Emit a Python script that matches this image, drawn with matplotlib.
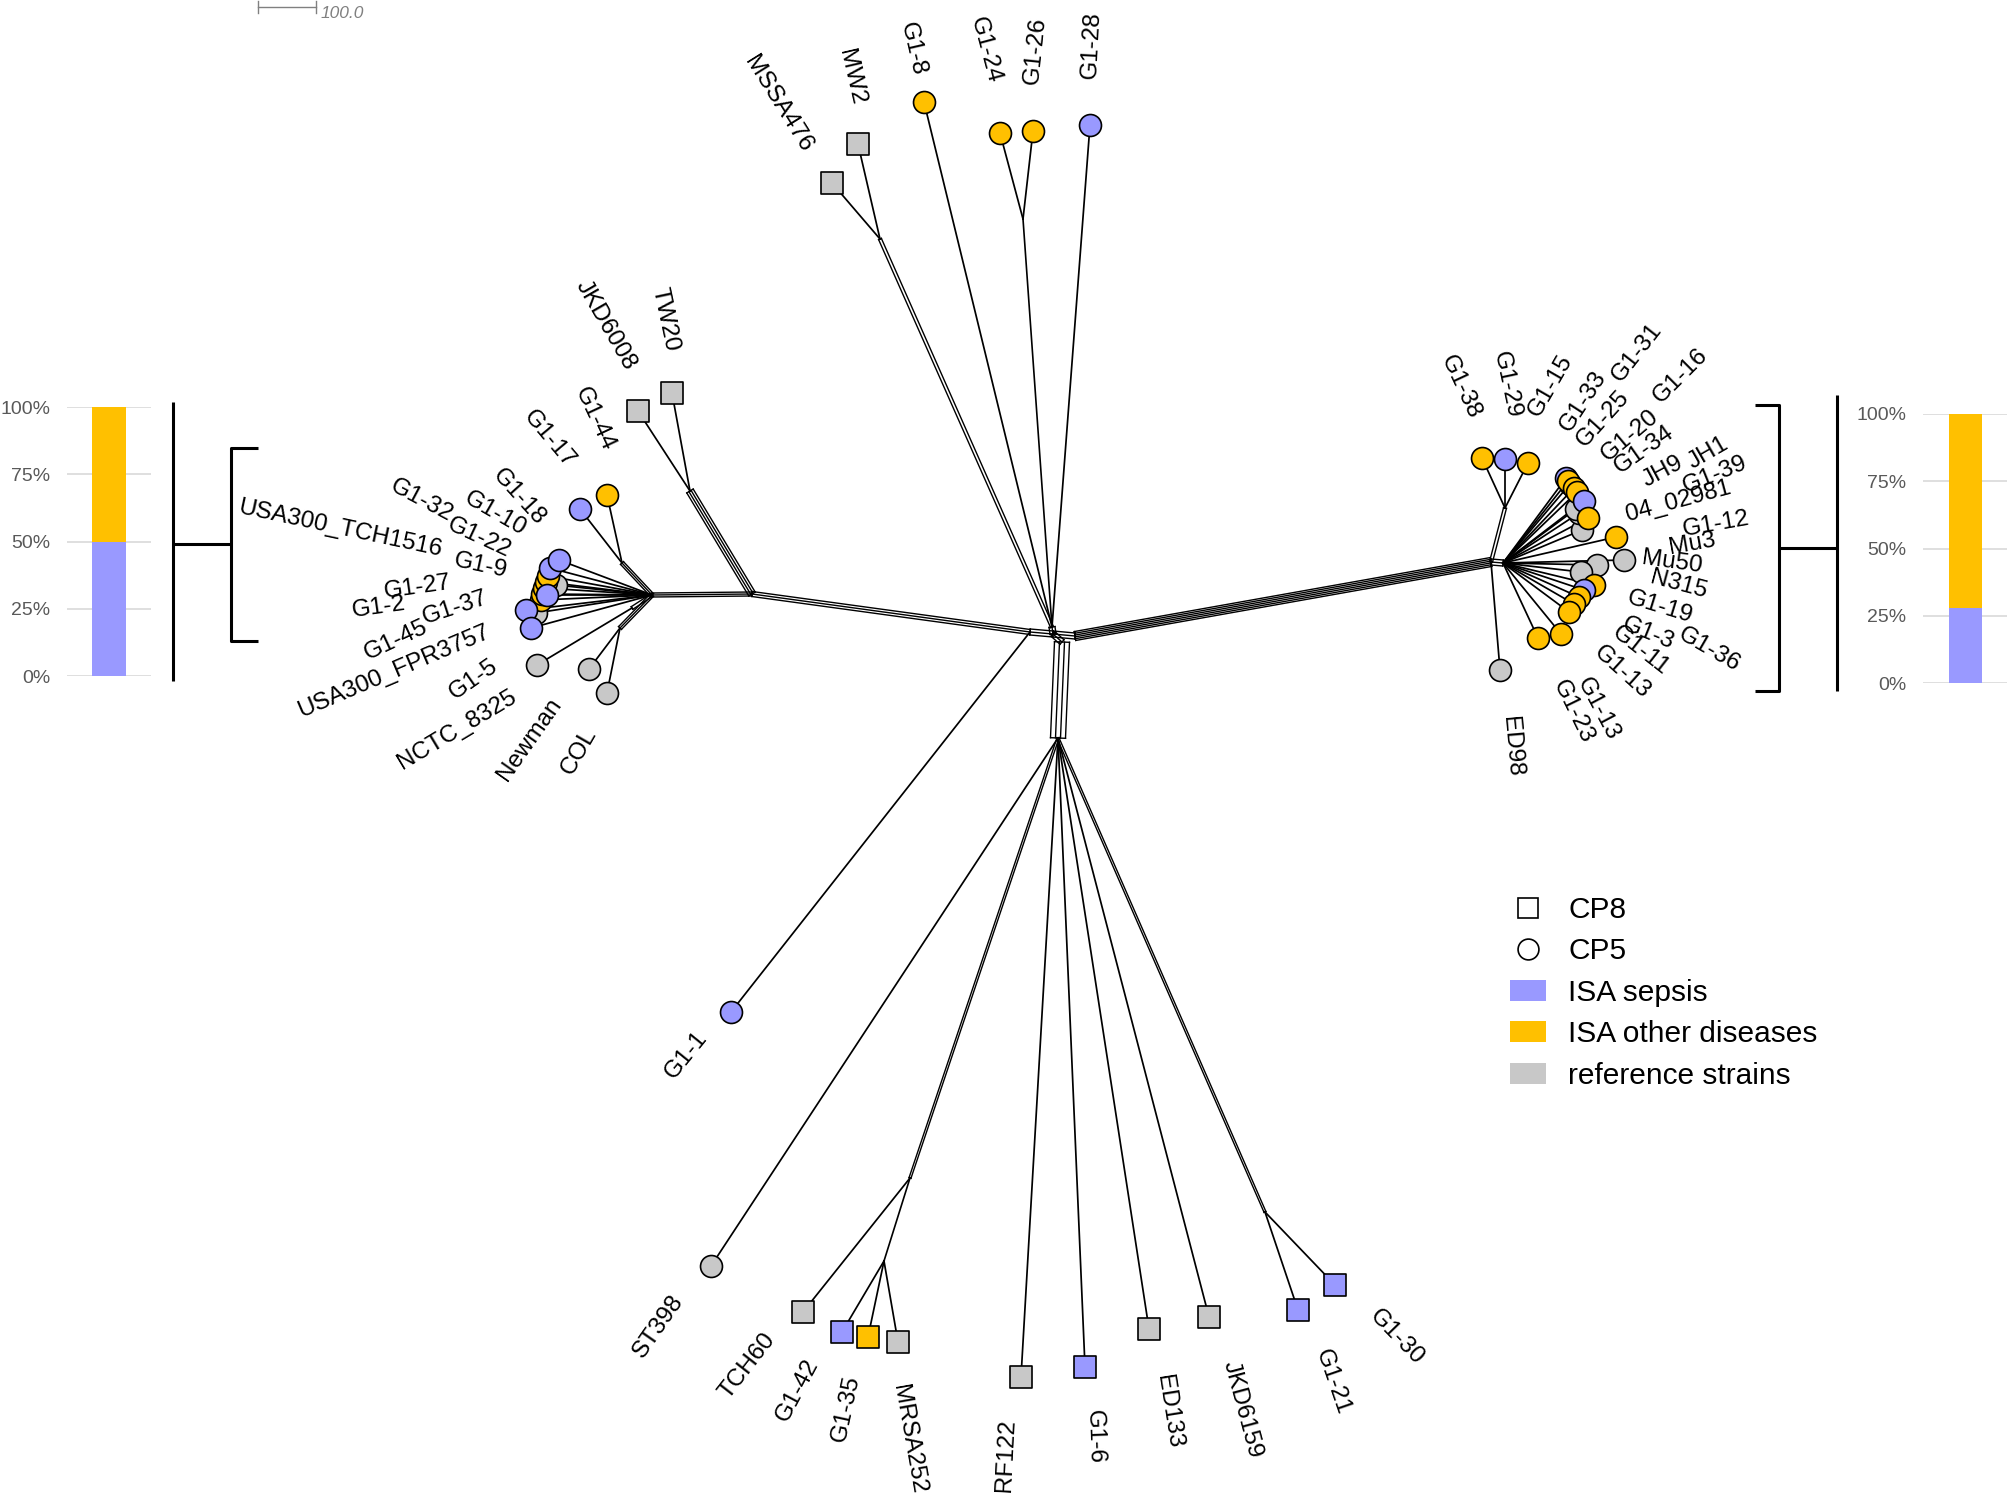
import matplotlib
matplotlib.use('Agg')
import matplotlib.pyplot as plt
from matplotlib.lines import Line2D
from matplotlib.patches import Patch
import numpy as np

plt.rcParams['font.family'] = ['Liberation Sans', 'DejaVu Sans']

W, H = 2008, 1494
PURPLE = '#9999FF'
YELLOW = '#FFC000'
GREY = '#C8C8C8'
fill = {'sepsis': PURPLE, 'other': YELLOW, 'ref': GREY}
shape = {'CP8': 's', 'CP5': 'o'}

# inner nodes of the split network (layout coordinates)
inner = {
    'CT': (1052, 627), 'CL': (1030, 632), 'C': (1053, 634), 'CR': (1075, 636),
    'CB': (1062, 642), 'BH': (1058, 738),
    'LM': (752, 594), 'LH': (652, 595), 'JTW': (690, 491), 'J17': (622, 563),
    'JN': (632, 608), 'JNC': (620, 628),
    'RH': (1491, 562), 'RHb': (1503, 563), 'J38': (1505, 508),
    'JMW': (880, 239), 'J24': (1023, 219),
    'JTCH': (910, 1178), 'JMR': (884, 1261), 'JG21': (1265, 1212),
}

# (from, to, parallel splits, spacing)
inner_edges = [
    ('LH', 'LM', 3, 2.0), ('LM', 'CL', 3, 2.5), ('JTW', 'LM', 4, 2.5),
    ('CL', 'C', 3, 3.0), ('C', 'CR', 3, 3.0), ('CR', 'RH', 6, 1.8),
    ('C', 'CB', 3, 3.0), ('CB', 'BH', 4, 5.0), ('CT', 'C', 3, 3.0),
    ('JMW', 'CT', 2, 3.0), ('J24', 'CT', 1, 0.0),
    ('J17', 'LH', 3, 2.0), ('JN', 'LH', 2, 3.0), ('JNC', 'LH', 3, 2.0),
    ('RH', 'RHb', 3, 3.0), ('J38', 'RH', 2, 3.0),
    ('BH', 'JTCH', 2, 2.0), ('JTCH', 'JMR', 1, 0.0), ('BH', 'JG21', 2, 2.0),
]

# leaves (drawing order = list order)
leaf_names = [
    'MSSA476', 'MW2', 'G1-8', 'G1-24', 'G1-26', 'G1-28',
    'JKD6008', 'TW20', 'G1-44', 'G1-17',
    'USA300_FPR3757', 'USA300_TCH1516', 'G1-2', 'G1-27', 'G1-9', 'G1-22', 'G1-32',
    'G1-37', 'G1-10', 'G1-18', 'G1-45', 'G1-5', 'NCTC_8325', 'Newman', 'COL',
    'G1-38', 'G1-29', 'G1-15',
    '04_02981', 'JH1', 'JH9', 'G1-33', 'G1-31', 'G1-25', 'G1-20', 'G1-16', 'G1-34',
    'G1-39', 'G1-12',
    'Mu50', 'Mu3', 'N315', 'G1-19', 'G1-3', 'G1-36', 'G1-11', 'G1-13', 'G1-13',
    'G1-23', 'ED98',
    'G1-1', 'ST398', 'TCH60', 'G1-42', 'G1-35', 'MRSA252', 'RF122', 'G1-6',
    'ED133', 'JKD6159', 'G1-21', 'G1-30',
]
leaf_x = [
    832, 858, 924, 1000, 1033, 1090,
    638, 672, 607, 580,
    536, 556, 541, 542, 544, 546, 548, 547, 550, 559, 526, 531, 537, 589, 607,
    1482, 1505, 1528,
    1582, 1579, 1576, 1566, 1570, 1568, 1574, 1577, 1584, 1588, 1616,
    1624, 1597, 1581, 1594, 1584, 1579, 1574, 1569, 1561, 1538, 1500,
    731, 711, 803, 842, 868, 898, 1021, 1085, 1149, 1209, 1298, 1335,
]
leaf_y = [
    183, 144, 102, 133, 131, 125,
    411, 393, 495, 509,
    613, 585, 600, 594, 588, 582, 576, 595, 568, 560, 610, 628, 665, 669, 693,
    458, 459, 463,
    530, 513, 509, 478, 484, 481, 488, 492, 501, 518, 537,
    560, 565, 572, 585, 590, 597, 604, 612, 634, 638, 670,
    1012, 1266, 1312, 1332, 1337, 1342, 1377, 1367, 1329, 1317, 1310, 1285,
]
leaf_cp = (['CP8', 'CP8'] + ['CP5'] * 4 + ['CP8', 'CP8'] + ['CP5'] * 42
           + ['CP5', 'CP5'] + ['CP8'] * 10)
leaf_group = [
    'ref', 'ref', 'other', 'other', 'other', 'sepsis',
    'ref', 'ref', 'other', 'sepsis',
    'ref', 'ref', 'other', 'other', 'other', 'other', 'other', 'sepsis', 'sepsis',
    'sepsis', 'sepsis', 'sepsis', 'ref', 'ref', 'ref',
    'other', 'sepsis', 'other',
    'ref', 'ref', 'ref', 'sepsis', 'sepsis', 'other', 'other', 'other', 'sepsis',
    'other', 'other',
    'ref', 'ref', 'ref', 'other', 'sepsis', 'other', 'other', 'other', 'other',
    'other', 'ref',
    'sepsis', 'ref', 'ref', 'sepsis', 'other', 'ref', 'ref', 'sepsis',
    'ref', 'ref', 'sepsis', 'sepsis',
]
leaf_parent = (['JMW', 'JMW', 'CT', 'J24', 'J24', 'CT',
                'JTW', 'JTW', 'J17', 'J17'] + ['LH'] * 12 + ['JN', 'JNC', 'JNC']
               + ['J38'] * 3 + ['RHb'] * 21 + ['RH']
               + ['CL', 'BH', 'JTCH', 'JMR', 'JMR', 'JMR', 'BH', 'BH', 'BH', 'BH',
                  'JG21', 'JG21'])

# label placement: anchor (end of the text nearest to the leaf) and angle
label_x = [
    807, 858, 919, 994, 1032, 1090,
    631, 672, 609, 571,
    489, 442, 406, 451, 507, 510, 451, 487, 524, 541, 427, 496, 515, 557, 591,
    1475, 1514, 1534,
    1626, 1690, 1644, 1565, 1616, 1580, 1604, 1657, 1616, 1684, 1683,
    1642, 1669, 1651, 1628, 1623, 1680, 1614, 1597, 1582, 1558, 1509,
    703, 679, 771, 813, 853, 899, 1008, 1094, 1163, 1229, 1321, 1373,
]
label_y = [
    150, 105, 75, 83, 84, 79,
    368, 351, 450, 465,
    631, 550, 604, 583, 571, 552, 516, 597, 531, 522, 626, 664, 695, 700, 730,
    418, 418, 415,
    515, 464, 482, 430, 379, 444, 457, 400, 469, 487, 530,
    558, 548, 577, 597, 623, 633, 630, 650, 679, 681, 716,
    1034, 1297, 1336, 1360, 1376, 1385, 1419, 1410, 1375, 1361, 1350, 1313,
]
label_rot = [
    -58, -77, -77, -75, 84, 87,
    -60, -78, -65, -50,
    23, -12, 8, 8, -12, -25, -28, 18, -30, -48, 25, 35, 31, 55, 60,
    -65, -78, 60,
    15, 30, 28, 57, 52, 48, 40, 45, 35, 22, 10,
    -8, 10, -15, -17, -22, -30, -38, -42, -62, -64, -85,
    51, 55, 52, 62, 78, -80, 87, -88, -81, -75, -71, -46,
]

# stacked percentage bars (ISA sepsis, ISA other diseases)
left_pct = [50.0, 50.0]
right_pct = [27.8, 72.2]
pct_ticks = [0, 25, 50, 75, 100]

legend_labels = ['CP8', 'CP5', 'ISA sepsis', 'ISA other diseases', 'reference strains']

fig = plt.figure(figsize=(W / 100, H / 100), dpi=100)
ax = fig.add_axes([0, 0, 1, 1])
ax.set_xlim(0, W)
ax.set_ylim(H, 0)
ax.axis('off')


def band(p, q, n, gap, lw=0.9):
    p = np.array(p, float)
    q = np.array(q, float)
    d = q - p
    nrm = np.array([-d[1], d[0]]) / np.hypot(d[0], d[1])
    offs = (np.arange(n) - (n - 1) / 2) * gap
    for o in offs:
        a = p + nrm * o
        b = q + nrm * o
        ax.plot([a[0], b[0]], [a[1], b[1]], color='black', lw=lw, zorder=1)
    if n > 1:
        for e in (p, q):
            a = e + nrm * offs[0]
            b = e + nrm * offs[-1]
            ax.plot([a[0], b[0]], [a[1], b[1]], color='black', lw=lw, zorder=1)


for a, b, n, g in inner_edges:
    band(inner[a], inner[b], n, g, lw=1.2 if n == 1 else 1.0)

for i, name in enumerate(leaf_names):
    px, py = inner[leaf_parent[i]]
    ax.plot([px, leaf_x[i]], [py, leaf_y[i]], color='black', lw=1.25, zorder=1)

for i, name in enumerate(leaf_names):
    ax.scatter(leaf_x[i], leaf_y[i], s=250, marker=shape[leaf_cp[i]],
               c=fill[leaf_group[i]], edgecolors='black', linewidths=1.2,
               zorder=3 + i * 0.01)
    vx = label_x[i] - leaf_x[i]
    vy = label_y[i] - leaf_y[i]
    r = np.radians(label_rot[i])
    ha = 'left' if vx * np.cos(r) - vy * np.sin(r) >= 0 else 'right'
    ax.text(label_x[i], label_y[i], name, rotation=label_rot[i],
            rotation_mode='anchor', ha=ha, va='center', fontsize=17.5, zorder=5)

# scale bar
ax.plot([258, 316], [7, 7], color='#808080', lw=1.0)
ax.plot([258, 258], [1, 13], color='#808080', lw=1.0)
ax.plot([316, 316], [1, 13], color='#808080', lw=1.0)
ax.text(321, 13, '100.0', color='#808080', fontsize=12.5, style='italic',
        ha='left', va='center')

# brackets
bk = dict(color='black', lw=2.2, solid_capstyle='butt')
ax.plot([173, 173], [402, 681], **bk)
ax.plot([173, 231], [544, 544], **bk)
ax.plot([258, 231, 231, 258], [448, 448, 641, 641], **bk)
ax.plot([1837, 1837], [395, 691], **bk)
ax.plot([1779, 1837], [548, 548], **bk)
ax.plot([1755, 1779, 1779, 1755], [405, 405, 691, 691], **bk)


def pct_bar(x0, x1, y0, y1, vals, width):
    bx = fig.add_axes([x0 / W, 1 - y1 / H, (x1 - x0) / W, (y1 - y0) / H])
    bx.bar([0], [vals[0]], width=width, color=PURPLE, zorder=2)
    bx.bar([0], [vals[1]], bottom=[vals[0]], width=width, color=YELLOW, zorder=2)
    bx.set_xlim(-0.5, 0.5)
    bx.set_ylim(0, 100)
    bx.set_yticks(pct_ticks)
    bx.set_yticklabels([f'{t}%' for t in pct_ticks])
    bx.set_xticks([])
    bx.yaxis.grid(True, color='#D9D9D9', lw=1.2)
    bx.set_axisbelow(True)
    for s in bx.spines.values():
        s.set_visible(False)
    bx.tick_params(axis='y', length=0, pad=12, labelsize=14, labelcolor='#595959')
    bx.patch.set_alpha(0)


pct_bar(67, 151, 407, 676, left_pct, 0.405)
pct_bar(1923, 2008, 414, 683, right_pct, 0.39)

handles = [
    Line2D([], [], marker='s', ls='none', mfc='white', mec='black', ms=15, mew=1.2),
    Line2D([], [], marker='o', ls='none', mfc='white', mec='black', ms=15, mew=1.2),
    Patch(fc=PURPLE, ec='none'),
    Patch(fc=YELLOW, ec='none'),
    Patch(fc=GREY, ec='none'),
]
ax.legend(handles, legend_labels, loc='upper left', bbox_to_anchor=(1510, 896),
          bbox_transform=ax.transData, frameon=False, fontsize=21.5,
          borderpad=0, borderaxespad=0, handlelength=1.2, handleheight=0.7,
          handletextpad=0.75, labelspacing=0.45)

fig.savefig('out.png', dpi=100)
